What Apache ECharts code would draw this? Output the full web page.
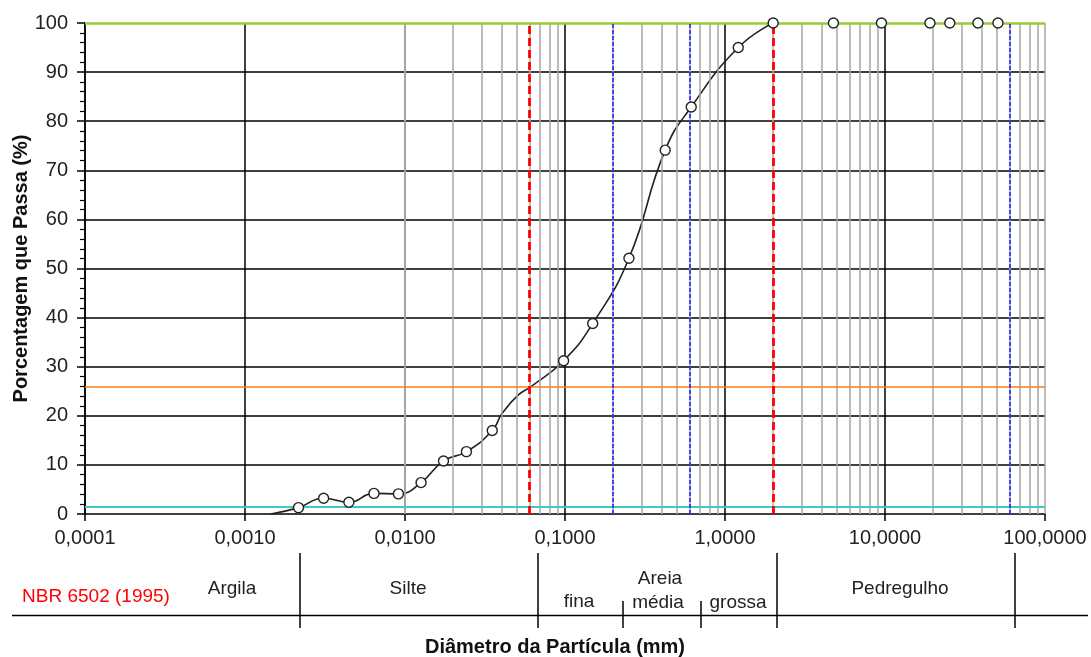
<!DOCTYPE html>
<html>
<head>
<meta charset="utf-8">
<script src="https://cdn.jsdelivr.net/npm/echarts@6/dist/echarts.min.js"></script>
<style>html,body{margin:0;padding:0;background:#fff;}#c{width:1091px;height:657px;}</style>
</head>
<body>
<div id="c"></div>
<script>
// Measured sample points (diameter mm, % passing)
const pointDiam = [0.00216, 0.0031, 0.00446, 0.0064, 0.0091, 0.0126, 0.0174, 0.0242, 0.0351, 0.098, 0.149, 0.251, 0.423, 0.615, 1.21, 2.0, 4.76, 9.5, 19.1, 25.4, 38.1, 50.8];
const pointPass = [1.3, 3.2, 2.4, 4.2, 4.1, 6.4, 10.8, 12.7, 17.0, 31.2, 38.8, 52.1, 74.1, 82.9, 95.0, 100, 100, 100, 100, 100, 100, 100];
// Fitted grading curve
const curveDiam = [0.00145, 0.00216, 0.0031, 0.00446, 0.0064, 0.0091, 0.0126, 0.0174, 0.0242, 0.0351, 0.0405, 0.0509, 0.0617, 0.098, 0.149, 0.251, 0.423, 0.615, 1.21, 2.0];
const curvePass = [0, 1.3, 3.2, 2.4, 4.2, 4.1, 6.4, 10.8, 12.7, 17.0, 20.5, 24.2, 26.0, 31.2, 38.8, 52.1, 74.1, 82.9, 95.0, 100];
// Reference lines
const redLimits = [0.002, 0.06, 2.0];
const blueLimits = [0.2, 0.6, 60];
const orangeLevel = 26;
const cyanLevel = 1.4;
const topLevel = 100;
const decades = [0.0001, 0.001, 0.01, 0.1, 1, 10];
// Classification table labels
const nbrLabel = 'NBR 6502 (1995)';
const classLabels = ['Argila', 'Silte', 'fina', 'Areia', 'média', 'grossa', 'Pedregulho'];
const yTitle = 'Porcentagem que Passa (%)';
const xTitle = 'Diâmetro da Partícula (mm)';

const FONT = 'Liberation Sans, Arial, sans-serif';
const minorGrid = [];
decades.forEach(d => { for (let k = 2; k <= 9; k++) minorGrid.push(+(d * k).toPrecision(3)); });

const chart = echarts.init(document.getElementById('c'), null, {renderer: 'canvas'});

function vLines(vals) { return vals.map(v => ({xAxis: v})); }

const tableLines = [
  [12, 615.5, 1088, 615.5],
  [300, 553, 300, 628],
  [538, 553, 538, 628],
  [623, 601, 623, 628],
  [701, 601, 701, 628],
  [777, 553, 777, 628],
  [1015, 553, 1015, 628]
];
const tablePos = [[232, 589], [408, 589], [579, 602], [660, 579], [658, 603], [738, 603], [900, 589]];

const graphics = tableLines.map(l => ({
  type: 'line', shape: {x1: l[0], y1: l[1], x2: l[2], y2: l[3]},
  style: {stroke: '#000', lineWidth: 1.5}, silent: true
}));
classLabels.forEach((t, i) => graphics.push({
  type: 'text', x: tablePos[i][0], y: tablePos[i][1],
  style: {text: t, fill: '#222', font: '19px ' + FONT, textAlign: 'center', textVerticalAlign: 'middle'}
}));
graphics.push({type: 'text', x: 96, y: 597,
  style: {text: nbrLabel, fill: '#ff0000', font: '19px ' + FONT, textAlign: 'center', textVerticalAlign: 'middle'}});
graphics.push({type: 'text', x: 555, y: 647,
  style: {text: xTitle, fill: '#111', font: 'bold 20px ' + FONT, textAlign: 'center', textVerticalAlign: 'middle'}});

chart.setOption({
  animation: false,
  backgroundColor: '#fff',
  grid: {left: 85, right: 46, top: 23, bottom: 143, containLabel: false, outerBoundsMode: 'none'},
  xAxis: {
    type: 'log', logBase: 10, min: 0.0001, max: 100,
    axisLine: {show: true, lineStyle: {color: '#000', width: 1.5}},
    axisTick: {show: true, length: 7, lineStyle: {color: '#000', width: 1.5}},
    axisLabel: {
      fontSize: 20, color: '#222', fontFamily: FONT, margin: 14,
      formatter: v => Number(v).toFixed(4).replace('.', ',')
    },
    splitLine: {show: true, showMaxLine: false, lineStyle: {color: '#000', width: 1.5}}
  },
  yAxis: {
    type: 'value', min: 0, max: 100, interval: 10,
    name: yTitle, nameLocation: 'middle', nameGap: 54, nameRotate: 90, nameMoveOverlap: false,
    nameTextStyle: {fontSize: 20, fontWeight: 'bold', color: '#111', fontFamily: FONT},
    axisLine: {show: true, lineStyle: {color: '#000', width: 1.5}},
    axisTick: {show: true, length: 8, lineStyle: {color: '#000', width: 1.5}},
    minorTick: {show: true, splitNumber: 5, length: 5, lineStyle: {color: '#000', width: 1.2}},
    axisLabel: {fontSize: 20, color: '#222', fontFamily: FONT, margin: 17},
    splitLine: {show: true, showMinLine: false, showMaxLine: false, lineStyle: {color: '#000', width: 1.5}}
  },
  graphic: graphics,
  series: [
    {
      type: 'line', name: 'grid', data: [], silent: true,
      markLine: {
        silent: true, symbol: ['none', 'none'], label: {show: false}, animation: false,
        lineStyle: {color: '#a6a6a6', width: 1.5, type: 'solid'},
        data: vLines(minorGrid).concat([{xAxis: 100}])
      }
    },
    {
      type: 'line', name: 'refs', data: [], silent: true, z: 3,
      markLine: {
        silent: true, symbol: ['none', 'none'], label: {show: false}, animation: false,
        data: [
          {yAxis: orangeLevel, lineStyle: {color: '#ff7f0e', width: 1.5, type: 'solid'}},
          {yAxis: cyanLevel, lineStyle: {color: '#40c8c8', width: 2, type: 'solid'}},
          {yAxis: topLevel, lineStyle: {color: '#99cc33', width: 2.5, type: 'solid'}}
        ].concat(blueLimits.map(v => ({xAxis: v, lineStyle: {color: '#1a1aff', width: 1.5, type: [4, 2]}})))
         .concat(redLimits.map(v => ({xAxis: v, lineStyle: {color: '#ff0000', width: 2.8, type: [8, 4]}})))
      }
    },
    {
      type: 'line', name: 'curve', z: 4,
      data: curveDiam.map((d, i) => [d, curvePass[i]]),
      smooth: 0.5, showSymbol: false, clip: false,
      lineStyle: {color: '#222', width: 1.6}
    },
    {
      type: 'scatter', name: 'points', z: 5, clip: false,
      data: pointDiam.map((d, i) => [d, pointPass[i]]),
      symbol: 'circle', symbolSize: 10,
      itemStyle: {color: '#fff', opacity: 1, borderColor: '#222', borderWidth: 1.4}
    }
  ]
});
</script>
</body>
</html>
